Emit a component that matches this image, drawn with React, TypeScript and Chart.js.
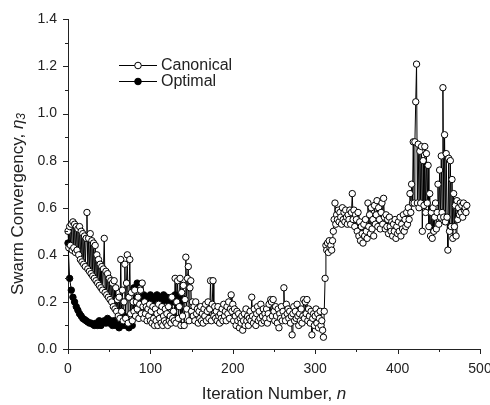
import React, { useEffect, useRef } from 'react';
import { Chart, registerables } from 'chart.js';

Chart.register(...registerables);

// Iteration step between stored samples
const canonicalStart = 0;
const canonicalStep = 1;
const optimalStart = 0;
const optimalStep = 2;

// Canonical swarm convergency, iterations 0..484
const canonical = [
  0.50, 0.43, 0.52, 0.44, 0.53, 0.42, 0.54, 0.43, 0.53, 0.41, 0.52, 0.42, 0.51, 0.40, 0.52, 0.38, 0.50, 0.37, 0.49, 0.36,
  0.48, 0.35, 0.47, 0.58, 0.34, 0.47, 0.33, 0.49, 0.32, 0.46, 0.31, 0.45, 0.30, 0.44, 0.29, 0.40, 0.28, 0.38, 0.27, 0.36,
  0.26, 0.35, 0.25, 0.34, 0.47, 0.24, 0.33, 0.23, 0.32, 0.22, 0.30, 0.21, 0.29, 0.20, 0.28, 0.18, 0.29, 0.17, 0.26, 0.16,
  0.21, 0.14, 0.22, 0.13, 0.38, 0.16, 0.25, 0.12, 0.20, 0.36, 0.13, 0.28, 0.40, 0.11, 0.22, 0.38, 0.15, 0.24, 0.12, 0.20,
  0.16, 0.25, 0.14, 0.20, 0.17, 0.22, 0.13, 0.19, 0.25, 0.15, 0.28, 0.18, 0.13, 0.20, 0.15, 0.18, 0.12, 0.17, 0.14, 0.19,
  0.12, 0.16, 0.11, 0.18, 0.13, 0.10, 0.17, 0.12, 0.15, 0.10, 0.19, 0.13, 0.16, 0.11, 0.18, 0.10, 0.14, 0.12, 0.17, 0.11,
  0.15, 0.10, 0.18, 0.12, 0.14, 0.11, 0.22, 0.13, 0.16, 0.12, 0.30, 0.11, 0.20, 0.29, 0.13, 0.18, 0.30, 0.10, 0.24, 0.14,
  0.27, 0.10, 0.21, 0.39, 0.17, 0.30, 0.35, 0.12, 0.26, 0.29, 0.16, 0.20, 0.14, 0.18, 0.12, 0.20, 0.15, 0.17, 0.11, 0.16,
  0.13, 0.18, 0.12, 0.15, 0.11, 0.17, 0.14, 0.19, 0.12, 0.16, 0.20, 0.13, 0.17, 0.29, 0.12, 0.19, 0.29, 0.14, 0.18, 0.13,
  0.16, 0.12, 0.18, 0.14, 0.11, 0.15, 0.13, 0.17, 0.12, 0.19, 0.14, 0.16, 0.12, 0.18, 0.15, 0.20, 0.13, 0.17, 0.23, 0.16,
  0.19, 0.12, 0.17, 0.14, 0.10, 0.16, 0.12, 0.15, 0.09, 0.13, 0.11, 0.14, 0.08, 0.12, 0.15, 0.10, 0.17, 0.12, 0.14, 0.10,
  0.13, 0.16, 0.12, 0.22, 0.14, 0.11, 0.17, 0.13, 0.10, 0.15, 0.18, 0.12, 0.16, 0.13, 0.19, 0.11, 0.14, 0.17, 0.12, 0.15,
  0.13, 0.17, 0.11, 0.15, 0.19, 0.13, 0.21, 0.20, 0.14, 0.21, 0.16, 0.12, 0.18, 0.14, 0.11, 0.17, 0.09, 0.15, 0.13, 0.18,
  0.12, 0.16, 0.26, 0.14, 0.12, 0.19, 0.15, 0.17, 0.13, 0.16, 0.11, 0.14, 0.06, 0.15, 0.18, 0.12, 0.16, 0.13, 0.19, 0.14,
  0.10, 0.15, 0.12, 0.17, 0.11, 0.14, 0.21, 0.13, 0.20, 0.15, 0.21, 0.12, 0.17, 0.14, 0.11, 0.16, 0.06, 0.13, 0.15, 0.10,
  0.14, 0.17, 0.11, 0.15, 0.09, 0.13, 0.16, 0.10, 0.12, 0.08, 0.05, 0.16, 0.30, 0.44, 0.42, 0.45, 0.41, 0.46, 0.43, 0.44,
  0.42, 0.46, 0.50, 0.55, 0.62, 0.53, 0.57, 0.55, 0.59, 0.54, 0.58, 0.56, 0.53, 0.60, 0.55, 0.58, 0.54, 0.59, 0.56, 0.53,
  0.57, 0.55, 0.59, 0.53, 0.58, 0.66, 0.55, 0.59, 0.52, 0.57, 0.55, 0.50, 0.58, 0.48, 0.54, 0.46, 0.52, 0.49, 0.45, 0.53,
  0.48, 0.55, 0.50, 0.47, 0.62, 0.52, 0.57, 0.49, 0.60, 0.51, 0.55, 0.48, 0.61, 0.53, 0.57, 0.63, 0.52, 0.60, 0.55, 0.51,
  0.58, 0.62, 0.53, 0.64, 0.56, 0.51, 0.57, 0.52, 0.55, 0.49, 0.56, 0.52, 0.50, 0.54, 0.48, 0.53, 0.50, 0.55, 0.47, 0.52,
  0.49, 0.54, 0.50, 0.56, 0.48, 0.53, 0.51, 0.57, 0.50, 0.55, 0.52, 0.58, 0.53, 0.60, 0.55, 0.66, 0.58, 0.70, 0.62, 0.88,
  0.62, 0.88, 1.05, 1.21, 0.62, 0.87, 0.60, 0.84, 0.62, 0.86, 0.50, 0.80, 0.61, 0.86, 0.58, 0.83, 0.62, 0.78, 0.52, 0.66,
  0.48, 0.58, 0.47, 0.60, 0.50, 0.56, 0.62, 0.51, 0.58, 0.70, 0.53, 0.76, 0.56, 0.82, 0.58, 1.11, 0.56, 0.91, 0.54, 0.83,
  0.56, 0.42, 0.81, 0.50, 0.80, 0.52, 0.72, 0.47, 0.66, 0.52, 0.61, 0.48, 0.63, 0.55, 0.60, 0.57, 0.62, 0.58, 0.61, 0.56,
  0.62, 0.59, 0.60, 0.58, 0.61,
];

// Optimal swarm convergency, iterations 0..140 (every 2nd)
const optimal = [
  0.45, 0.30, 0.25, 0.22, 0.20, 0.18, 0.165, 0.15, 0.14, 0.13, 0.125, 0.12, 0.115, 0.11, 0.11, 0.105,
  0.10, 0.11, 0.10, 0.12, 0.10, 0.11, 0.12, 0.11, 0.13, 0.11, 0.12, 0.10, 0.12, 0.10, 0.11, 0.09,
  0.12, 0.10, 0.14, 0.10, 0.12, 0.09, 0.11, 0.10, 0.26, 0.20, 0.28, 0.21, 0.22, 0.20, 0.23, 0.21,
  0.22, 0.20, 0.23, 0.21, 0.22, 0.20, 0.23, 0.21, 0.22, 0.20, 0.23, 0.21, 0.22, 0.20, 0.21, 0.22,
  0.20, 0.23, 0.21, 0.22, 0.20, 0.22, 0.21,
];

const xMajorTicks = [0, 100, 200, 300, 400, 500];
const xMinorTicks = [50, 150, 250, 350, 450];
const yMajorTicks = [0, 0.2, 0.4, 0.6, 0.8, 1.0, 1.2, 1.4];
const yMinorTicks = [0.1, 0.3, 0.5, 0.7, 0.9, 1.1, 1.3];

const seriesNames = ['Canonical', 'Optimal'];
const xTitle = 'Iteration Number, ';
const xTitleVar = 'n';
const yTitle = 'Swarm Convergency, ';
const yTitleVar = 'η';
const yTitleSub = '3';

const FONT = '"Liberation Sans", Arial, sans-serif';
const INK = '#222';

const decorPlugin = {
  id: 'decor',
  afterDraw(chart: any) {
    const { ctx, scales } = chart;
    const x = scales.x;
    const y = scales.y;
    const bottom = chart.chartArea.bottom;
    const left = chart.chartArea.left;
    ctx.save();
    ctx.strokeStyle = INK;
    ctx.lineWidth = 1;
    ctx.beginPath();
    xMajorTicks.forEach((v) => {
      const px = Math.round(x.getPixelForValue(v)) + 0.5;
      ctx.moveTo(px, bottom);
      ctx.lineTo(px, bottom + 5);
    });
    xMinorTicks.forEach((v) => {
      const px = Math.round(x.getPixelForValue(v)) + 0.5;
      ctx.moveTo(px, bottom);
      ctx.lineTo(px, bottom + 3);
    });
    yMajorTicks.forEach((v) => {
      const py = Math.round(y.getPixelForValue(v)) + 0.5;
      ctx.moveTo(left, py);
      ctx.lineTo(left - 5, py);
    });
    yMinorTicks.forEach((v) => {
      const py = Math.round(y.getPixelForValue(v)) + 0.5;
      ctx.moveTo(left, py);
      ctx.lineTo(left - 3, py);
    });
    ctx.stroke();

    // x tick labels
    ctx.fillStyle = INK;
    ctx.font = `14px ${FONT}`;
    ctx.textAlign = 'center';
    ctx.textBaseline = 'middle';
    xMajorTicks.forEach((v) => {
      ctx.fillText(String(v), x.getPixelForValue(v), bottom + 20);
    });

    // x title
    ctx.font = `17px ${FONT}`;
    const w1 = ctx.measureText(xTitle).width;
    ctx.font = `italic 17px ${FONT}`;
    const w2 = ctx.measureText(xTitleVar).width;
    const cx = (chart.chartArea.left + chart.chartArea.right) / 2;
    const sx = cx - (w1 + w2) / 2;
    const ty = 394;
    ctx.textAlign = 'left';
    ctx.font = `17px ${FONT}`;
    ctx.fillText(xTitle, sx, ty);
    ctx.font = `italic 17px ${FONT}`;
    ctx.fillText(xTitleVar, sx + w1, ty);

    // y title (rotated)
    ctx.save();
    ctx.translate(18, 204);
    ctx.rotate(-Math.PI / 2);
    ctx.font = `17px ${FONT}`;
    const a1 = ctx.measureText(yTitle).width;
    ctx.font = `italic 17px ${FONT}`;
    const a2 = ctx.measureText(yTitleVar).width;
    ctx.font = `italic 12px ${FONT}`;
    const a3 = ctx.measureText(yTitleSub).width;
    const s = -(a1 + a2 + a3) / 2;
    ctx.font = `17px ${FONT}`;
    ctx.fillText(yTitle, s, 0);
    ctx.font = `italic 17px ${FONT}`;
    ctx.fillText(yTitleVar, s + a1, 0);
    ctx.font = `italic 12px ${FONT}`;
    ctx.fillText(yTitleSub, s + a1 + a2, 4);
    ctx.restore();

    // legend
    const rows = [65, 81];
    rows.forEach((ry, i) => {
      ctx.strokeStyle = '#000';
      ctx.lineWidth = 1.2;
      ctx.beginPath();
      ctx.moveTo(119, ry + 0.5);
      ctx.lineTo(157, ry + 0.5);
      ctx.stroke();
      ctx.beginPath();
      ctx.arc(138, ry + 0.5, 3.3, 0, Math.PI * 2);
      ctx.fillStyle = i === 0 ? '#fff' : '#000';
      ctx.fill();
      ctx.lineWidth = 1;
      ctx.stroke();
      ctx.fillStyle = INK;
      ctx.font = `16px ${FONT}`;
      ctx.textAlign = 'left';
      ctx.textBaseline = 'middle';
      ctx.fillText(seriesNames[i], 161, ry + 1);
    });
    ctx.restore();
  },
};

export default function App() {
  const ref = useRef<HTMLCanvasElement | null>(null);

  useEffect(() => {
    if (!ref.current) return;
    const chart = new Chart(ref.current, {
      type: 'line',
      data: {
        datasets: [
          {
            label: seriesNames[0],
            data: canonical.map((v, i) => ({ x: canonicalStart + i * canonicalStep, y: v })),
            borderColor: '#000',
            borderWidth: 1,
            pointRadius: 3.2,
            pointBackgroundColor: '#fff',
            pointBorderColor: '#000',
            pointBorderWidth: 1,
            fill: false,
            tension: 0,
            clip: false as any,
          },
          {
            label: seriesNames[1],
            data: optimal.map((v, i) => ({ x: optimalStart + i * optimalStep, y: v })),
            borderColor: '#000',
            borderWidth: 1,
            pointRadius: 3.2,
            pointBackgroundColor: '#000',
            pointBorderColor: '#000',
            pointBorderWidth: 1,
            fill: false,
            tension: 0,
            clip: false as any,
          },
        ],
      },
      options: {
        responsive: false,
        animation: false,
        events: [],
        layout: { padding: { left: 0, top: 14, right: 10, bottom: 0 } },
        plugins: {
          legend: { display: false },
          tooltip: { enabled: false },
          title: { display: false },
        },
        scales: {
          x: {
            type: 'linear',
            min: 0,
            max: 500,
            grid: { display: true, drawOnChartArea: false, drawTicks: false },
            border: { display: true, color: INK, width: 1 },
            ticks: { display: false, stepSize: 100 },
            afterFit: (s: any) => {
              s.height = 56;
            },
          },
          y: {
            type: 'linear',
            min: 0,
            max: 1.4,
            grid: { display: true, drawOnChartArea: false, drawTicks: false },
            border: { display: true, color: INK, width: 1 },
            ticks: {
              stepSize: 0.2,
              color: INK,
              padding: 11,
              font: { size: 14, family: FONT },
              callback: (v: any) => Number(v).toFixed(1),
            },
            afterFit: (s: any) => {
              s.width = 68;
            },
          },
        },
      },
      plugins: [decorPlugin],
    });
    return () => chart.destroy();
  }, []);

  return (
    <div style={{ position: 'fixed', left: 0, top: 0, width: 490, height: 405, background: '#fff' }}>
      <canvas ref={ref} width={490} height={405} />
    </div>
  );
}
